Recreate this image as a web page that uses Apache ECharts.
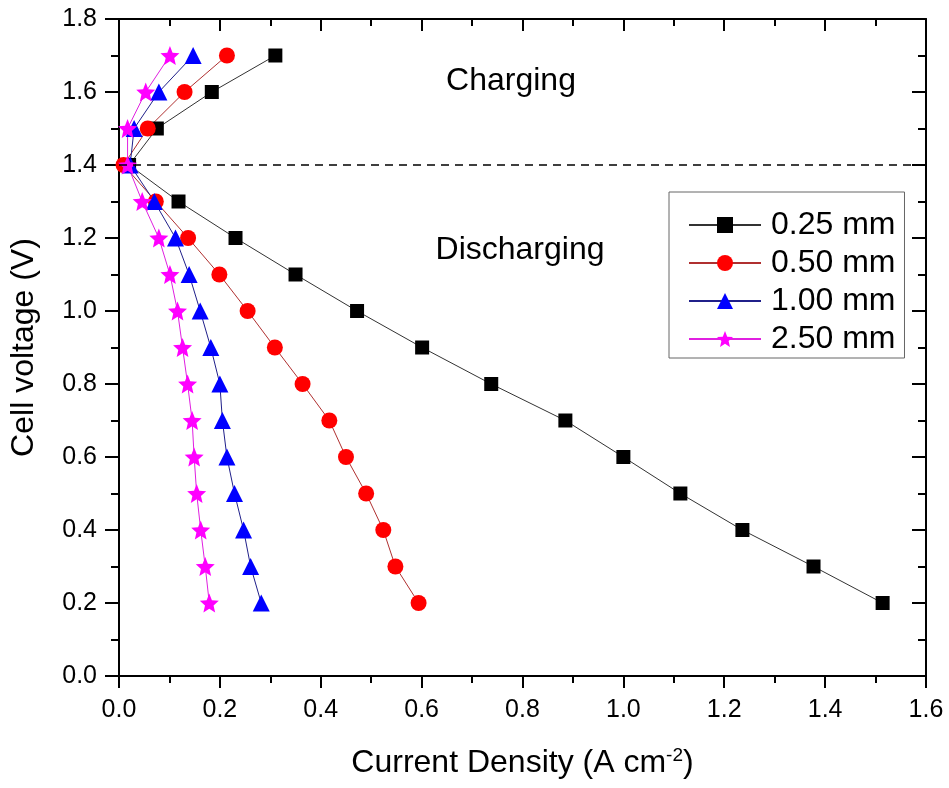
<!DOCTYPE html>
<html>
<head>
<meta charset="utf-8">
<script src="https://cdn.jsdelivr.net/npm/echarts@6/dist/echarts.min.js"></script>
<style>html,body{margin:0;padding:0;background:#fff;}#c{width:949px;height:788px;}</style>
</head>
<body>
<div id="c"></div>
<script>
const voltage = [1.7,1.6,1.5,1.4,1.3,1.2,1.1,1.0,0.9,0.8,0.7,0.6,0.5,0.4,0.3,0.2];
const cd025 = [0.310,0.184,0.075,0.020,0.118,0.231,0.350,0.472,0.601,0.738,0.885,1.000,1.113,1.236,1.377,1.514];
const cd050 = [0.214,0.130,0.057,0.009,0.073,0.137,0.199,0.255,0.309,0.364,0.417,0.450,0.490,0.524,0.548,0.594];
const cd100 = [0.147,0.079,0.030,0.022,0.070,0.112,0.139,0.161,0.182,0.200,0.205,0.214,0.229,0.247,0.261,0.282];
const cd250 = [0.101,0.053,0.017,0.017,0.046,0.079,0.101,0.116,0.126,0.136,0.145,0.149,0.154,0.162,0.171,0.179];
const seriesNames = ['0.25 mm','0.50 mm','1.00 mm','2.50 mm'];
const ocvLine = 1.4;

const FONT = 'Liberation Sans, Arial, sans-serif';
// five-point star, inner radius 0.45
const STAR = 'path://M100,0 L126.4,63.6 L195.1,69.1 L142.8,114 L158.8,180.9 L100,145 L41.2,180.9 L57.2,114 L4.9,69.1 L73.6,63.6 Z';

function pairs(xs){ return xs.map((x,i)=>[x, voltage[i]]); }

const chart = echarts.init(document.getElementById('c'), null, {renderer:'canvas'});

const axisCommon = {
  type:'value',
  axisLine:{show:true, onZero:false, lineStyle:{color:'#000', width:2}},
  splitLine:{show:false},
  minorSplitLine:{show:false}
};

const option = {
  backgroundColor:'#fff',
  animation:false,
  textStyle:{fontFamily:FONT, color:'#000'},
  grid:{left:119, right:23, top:19, bottom:112, containLabel:false},
  legend:{
    data:seriesNames,
    orient:'vertical',
    left:669, top:192,
    padding:[17,9,3,19],
    itemGap:6,
    itemWidth:72,
    itemHeight:20,
    borderColor:'#666', borderWidth:1,
    backgroundColor:'#fff',
    textStyle:{fontSize:32, fontFamily:FONT, color:'#000', lineHeight:30, padding:[0,0,0,5]}
  },
  xAxis:[
    Object.assign({}, axisCommon, {
      position:'bottom', min:0, max:1.6, interval:0.2,
      name:'{a|Current Density (A cm}{s|-2}{a|)}',
      nameLocation:'middle', nameGap:70,
      nameTextStyle:{rich:{a:{fontSize:32, fontFamily:FONT, color:'#000'}, s:{fontSize:19, fontFamily:FONT, color:'#000', padding:[0,0,16,0]}}},
      axisTick:{show:true, inside:false, length:12, lineStyle:{width:2, color:'#000'}},
      minorTick:{show:true, splitNumber:2, length:7, lineStyle:{width:2, color:'#000'}},
      axisLabel:{fontSize:25, margin:22, color:'#000', fontFamily:FONT, formatter:v=>v.toFixed(1)}
    }),
    Object.assign({}, axisCommon, {
      position:'top', min:0, max:1.6, interval:0.2,
      axisTick:{show:true, inside:true, length:12, lineStyle:{width:2, color:'#000'}},
      minorTick:{show:true, splitNumber:2, length:7, lineStyle:{width:2, color:'#000'}},
      axisLabel:{show:false}
    })
  ],
  yAxis:[
    Object.assign({}, axisCommon, {
      position:'left', min:0, max:1.8, interval:0.2,
      name:'Cell voltage (V)',
      nameLocation:'middle', nameGap:79,
      nameTextStyle:{fontSize:32, fontFamily:FONT, color:'#000'},
      axisTick:{show:true, inside:false, length:14, lineStyle:{width:2, color:'#000'}},
      minorTick:{show:true, splitNumber:2, length:8, lineStyle:{width:2, color:'#000'}},
      axisLabel:{fontSize:25, margin:22, color:'#000', fontFamily:FONT, formatter:v=>v.toFixed(1)}
    }),
    Object.assign({}, axisCommon, {
      position:'right', min:0, max:1.8, interval:0.2,
      axisTick:{show:true, inside:true, length:14, lineStyle:{width:2, color:'#000'}},
      minorTick:{show:true, splitNumber:2, length:8, lineStyle:{width:2, color:'#000'}},
      axisLabel:{show:false}
    })
  ],
  series:[
    {
      name:seriesNames[0], type:'line', data:pairs(cd025),
      symbol:'rect', symbolSize:14,
      itemStyle:{color:'#000'},
      lineStyle:{color:'#333', width:1},
      markLine:{
        silent:true, symbol:['none','none'], label:{show:false},
        lineStyle:{color:'#000', width:1.5, type:[8,6]},
        data:[{yAxis:ocvLine}]
      }
    },
    {
      name:seriesNames[1], type:'line', data:pairs(cd050),
      symbol:'circle', symbolSize:16,
      itemStyle:{color:'#ff0000'},
      lineStyle:{color:'#b03030', width:1}
    },
    {
      name:seriesNames[2], type:'line', data:pairs(cd100),
      symbol:'triangle', symbolSize:17,
      itemStyle:{color:'#0000ff'},
      lineStyle:{color:'#20208a', width:1}
    },
    {
      name:seriesNames[3], type:'line', data:pairs(cd250),
      symbol:STAR, symbolSize:19,
      itemStyle:{color:'#ff00ff'},
      lineStyle:{color:'#e020e0', width:1}
    }
  ],
  graphic:[
    {type:'text', x:511, y:81, style:{text:'Charging', font:'32px '+FONT, fill:'#000', textAlign:'center', textVerticalAlign:'middle'}},
    {type:'text', x:520, y:250, style:{text:'Discharging', font:'32px '+FONT, fill:'#000', textAlign:'center', textVerticalAlign:'middle'}}
  ]
};
chart.setOption(option);
</script>
</body>
</html>
